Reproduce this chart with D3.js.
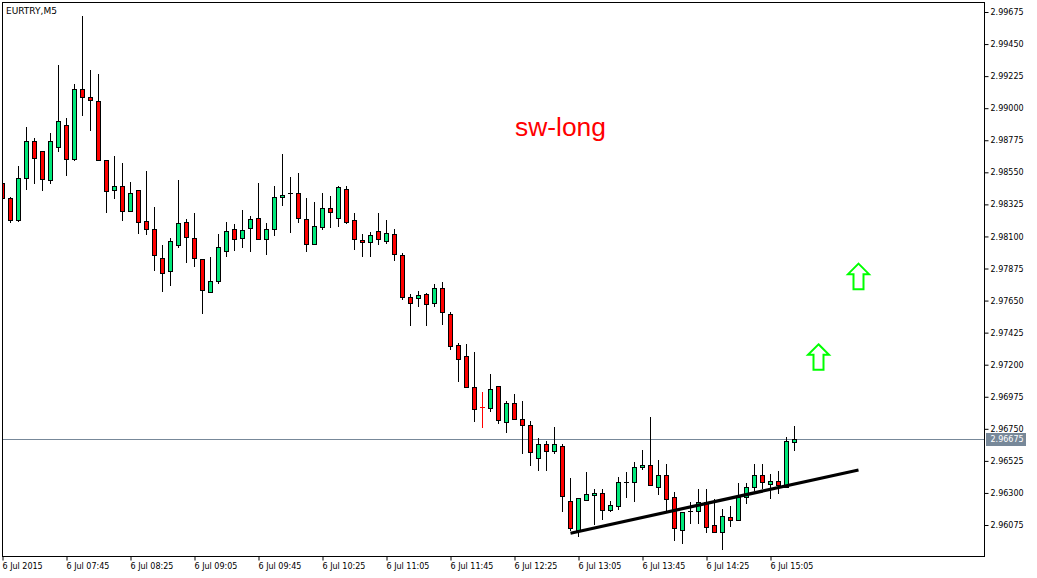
<!DOCTYPE html>
<html><head><meta charset="utf-8">
<script src="https://cdn.jsdelivr.net/npm/d3@7"></script>
<style>html,body{margin:0;padding:0;background:#fff;overflow:hidden}</style>
</head><body>
<svg id="c" width="1037" height="578"></svg>
<script>
// ---------- data ----------
const symbolLabel = "EURTRY,M5";
const signalLabel = "sw-long";
const xTickIndex = [0, 8, 16, 24, 32, 40, 48, 56, 64, 72, 80, 88, 96];
const xTickLabels = ["6 Jul 2015", "6 Jul 07:45", "6 Jul 08:25", "6 Jul 09:05", "6 Jul 09:45", "6 Jul 10:25",
  "6 Jul 11:05", "6 Jul 11:45", "6 Jul 12:25", "6 Jul 13:05", "6 Jul 13:45", "6 Jul 14:25", "6 Jul 15:05"];
const yTickValues = [2.96075, 2.96300, 2.96525, 2.96750, 2.96975, 2.97200, 2.97425, 2.97650, 2.97875,
  2.98100, 2.98325, 2.98550, 2.98775, 2.99000, 2.99225, 2.99450, 2.99675];

const open = [
  2.98468, 2.98363, 2.98210, 2.98505, 2.98768, 2.98697, 2.98491, 2.98725, 2.98880, 2.98638,
  2.99133, 2.99076, 2.99048, 2.98634, 2.98422, 2.98452, 2.98276, 2.98424, 2.98206, 2.98150,
  2.97946, 2.97855, 2.98033, 2.98199, 2.98087, 2.97939, 2.97708, 2.97785, 2.97996, 2.98150,
  2.98087, 2.98157, 2.98227, 2.98080, 2.98150, 2.98375, 2.98400, 2.98403, 2.98220, 2.98045,
  2.98164, 2.98297, 2.98227, 2.98431, 2.98213, 2.98073, 2.98059, 2.98136, 2.98066, 2.98115,
  2.97968, 2.97673, 2.97666, 2.97694, 2.97631, 2.97736, 2.97553, 2.97336, 2.97259, 2.97041,
  2.96901, 2.96894, 2.97048, 2.96796, 2.96929, 2.96817, 2.96774, 2.96543, 2.96641, 2.96592,
  2.96627, 2.96241, 2.96038, 2.96248, 2.96283, 2.96297, 2.96178, 2.96206, 2.96374, 2.96374,
  2.96480, 2.96494, 2.96339, 2.96424, 2.96269, 2.96038, 2.96171, 2.96171, 2.96234, 2.96073,
  2.96024, 2.96129, 2.96108, 2.96269, 2.96339, 2.96424, 2.96360, 2.96381, 2.96339, 2.96655];
const high = [
  2.98482, 2.98377, 2.98594, 2.98870, 2.98793, 2.98699, 2.98826, 2.99303, 2.98931, 2.99170,
  2.99647, 2.99268, 2.99240, 2.98634, 2.98664, 2.98613, 2.98480, 2.98424, 2.98559, 2.98307,
  2.98038, 2.98087, 2.98496, 2.98220, 2.98262, 2.97939, 2.97954, 2.98115, 2.98199, 2.98185,
  2.98283, 2.98241, 2.98475, 2.98192, 2.98454, 2.98678, 2.98517, 2.98545, 2.98368, 2.98340,
  2.98405, 2.98384, 2.98452, 2.98454, 2.98264, 2.98115, 2.98129, 2.98264, 2.98213, 2.98150,
  2.97982, 2.97694, 2.97715, 2.97701, 2.97764, 2.97778, 2.97568, 2.97350, 2.97343, 2.97287,
  2.97006, 2.97132, 2.97048, 2.96943, 2.96992, 2.96943, 2.96803, 2.96683, 2.96662, 2.96760,
  2.96641, 2.96403, 2.96262, 2.96445, 2.96325, 2.96325, 2.96241, 2.96410, 2.96447, 2.96515,
  2.96601, 2.96831, 2.96529, 2.96501, 2.96304, 2.96164, 2.96234, 2.96325, 2.96325, 2.96255,
  2.96185, 2.96206, 2.96367, 2.96367, 2.96501, 2.96501, 2.96431, 2.96452, 2.96690, 2.96767];
const low = [
  2.98349, 2.98203, 2.98210, 2.98431, 2.98477, 2.98426, 2.98477, 2.98702, 2.98533, 2.98636,
  2.98952, 2.98847, 2.98634, 2.98274, 2.98372, 2.98217, 2.98276, 2.98126, 2.98115, 2.97866,
  2.97719, 2.97761, 2.98028, 2.97923, 2.97895, 2.97565, 2.97708, 2.97771, 2.97965, 2.98003,
  2.98028, 2.97996, 2.98080, 2.97975, 2.98108, 2.98318, 2.98129, 2.98199, 2.97996, 2.98045,
  2.98150, 2.98164, 2.98175, 2.98192, 2.98010, 2.97965, 2.97965, 2.98045, 2.98052, 2.97932,
  2.97659, 2.97476, 2.97610, 2.97476, 2.97610, 2.97483, 2.97308, 2.97083, 2.97041, 2.96803,
  2.96760, 2.96877, 2.96789, 2.96730, 2.96817, 2.96578, 2.96494, 2.96459, 2.96459, 2.96578,
  2.96171, 2.96040, 2.95995, 2.96248, 2.96080, 2.96115, 2.96171, 2.96185, 2.96269, 2.96241,
  2.96466, 2.96353, 2.96290, 2.96178, 2.95967, 2.95946, 2.96087, 2.96087, 2.96024, 2.96024,
  2.95904, 2.96066, 2.96108, 2.96227, 2.96318, 2.96332, 2.96262, 2.96297, 2.96339, 2.96599];
const close = [
  2.98363, 2.98210, 2.98508, 2.98768, 2.98645, 2.98498, 2.98768, 2.98908, 2.98638, 2.99133,
  2.99076, 2.99055, 2.98634, 2.98415, 2.98450, 2.98276, 2.98403, 2.98199, 2.98150, 2.97965,
  2.97841, 2.98066, 2.98192, 2.98094, 2.97946, 2.97722, 2.97785, 2.98024, 2.98136, 2.98080,
  2.98143, 2.98220, 2.98080, 2.98150, 2.98375, 2.98389, 2.98400, 2.98227, 2.98045, 2.98171,
  2.98297, 2.98269, 2.98445, 2.98199, 2.98080, 2.98059, 2.98108, 2.98080, 2.98122, 2.97975,
  2.97673, 2.97631, 2.97687, 2.97624, 2.97736, 2.97568, 2.97329, 2.97238, 2.97041, 2.96887,
  2.96901, 2.97027, 2.96810, 2.96929, 2.96817, 2.96774, 2.96585, 2.96641, 2.96592, 2.96641,
  2.96276, 2.96052, 2.96262, 2.96290, 2.96297, 2.96178, 2.96213, 2.96374, 2.96374, 2.96480,
  2.96494, 2.96353, 2.96424, 2.96255, 2.96052, 2.96164, 2.96171, 2.96234, 2.96059, 2.96024,
  2.96136, 2.96108, 2.96269, 2.96339, 2.96424, 2.96374, 2.96381, 2.96353, 2.96662, 2.96675];

const currentPrice = 2.96675;
const trendIndex = [71, 107];
const trendPrice = [2.96017, 2.96461];
const arrowIndex = [102, 107];
const arrowPrice = [2.97350, 2.97916];

// ---------- drawing ----------
const svg = d3.select("#c");
const plot = {l: 2.5, t: 2.5, r: 984.5, b: 556.5};
const x = d3.scaleLinear().domain([0, 120]).range([2.5, 962.5]);
const y = d3.scaleLinear().domain([2.96075, 2.99675]).range([525, 12]);
const snap = v => Math.round(v - 0.5) + 0.5;
const FONT = "'Liberation Sans', Arial, sans-serif";
const AXFONT = "'DejaVu Sans', Tahoma, sans-serif";
const BULL = "#00e87a", BEAR = "#ff0000";
const redCross = 60;

svg.append("rect").attr("width", 1037).attr("height", 578).attr("fill", "#fff");

svg.append("defs").append("clipPath").attr("id", "clip")
  .append("rect").attr("x", 3).attr("y", 3).attr("width", plot.r - 3).attr("height", plot.b - 3);

const g = svg.append("g").attr("clip-path", "url(#clip)");

// current price line
g.append("line").attr("x1", plot.l).attr("x2", plot.r)
  .attr("y1", snap(y(currentPrice))).attr("y2", snap(y(currentPrice)))
  .attr("stroke", "#778899").attr("stroke-width", 1);

const bars = d3.range(open.length).map(i => ({i, o: open[i], h: high[i], l: low[i], c: close[i]}));

const cg = g.selectAll("g.bar").data(bars).join("g").attr("class", "bar");
cg.append("line")
  .attr("x1", d => x(d.i)).attr("x2", d => x(d.i))
  .attr("y1", d => Math.round(y(d.h))).attr("y2", d => Math.round(y(d.l)) + 1)
  .attr("stroke", d => d.i === redCross ? BEAR : "#000").attr("stroke-width", 1);
cg.each(function(d) {
  const sel = d3.select(this);
  const top = snap(y(Math.max(d.o, d.c))), bot = snap(y(Math.min(d.o, d.c)));
  if (d.o === d.c) {
    sel.append("line").attr("x1", x(d.i) - 2.5).attr("x2", x(d.i) + 2.5)
      .attr("y1", top).attr("y2", top)
      .attr("stroke", d.i === redCross ? BEAR : "#000").attr("stroke-width", 1);
  } else {
    sel.append("rect").attr("x", x(d.i) - 2).attr("width", 4)
      .attr("y", top).attr("height", Math.max(1, bot - top))
      .attr("fill", d.c > d.o ? BULL : BEAR).attr("stroke", "#000").attr("stroke-width", 1);
  }
});

// trend line
g.append("line")
  .attr("x1", x(trendIndex[0])).attr("y1", y(trendPrice[0]))
  .attr("x2", x(trendIndex[1])).attr("y2", y(trendPrice[1]))
  .attr("stroke", "#000").attr("stroke-width", 3.2);

// arrows
const arrowPath = (cx, ty) => {
  const hw = 10.5, sw = 5, hh = 10.5, tot = 25.5;
  return `M${cx},${ty} L${cx + hw},${ty + hh} L${cx + sw},${ty + hh} L${cx + sw},${ty + tot} ` +
         `L${cx - sw},${ty + tot} L${cx - sw},${ty + hh} L${cx - hw},${ty + hh} Z`;
};
g.selectAll("path.arrow").data(arrowIndex.map((d, k) => ({i: d, p: arrowPrice[k]})))
  .join("path").attr("class", "arrow")
  .attr("d", d => arrowPath(x(d.i), y(d.p) + 1))
  .attr("fill", "#fff").attr("stroke", "#00ff00").attr("stroke-width", 2);

// signal text
g.append("text").attr("x", 515).attr("y", 136).text(signalLabel)
  .attr("fill", "#ff0000").attr("font-family", FONT).attr("font-size", 26.4);

// symbol label
svg.append("text").attr("x", 6).attr("y", 13.5).text(symbolLabel)
  .attr("fill", "#000").attr("font-family", AXFONT).attr("font-size", 9);

// frame
svg.append("rect").attr("x", plot.l).attr("y", plot.t)
  .attr("width", plot.r - plot.l).attr("height", plot.b - plot.t)
  .attr("fill", "none").attr("stroke", "#000").attr("stroke-width", 1);

// y axis
const ya = svg.append("g").attr("transform", `translate(${plot.r},0)`)
  .call(d3.axisRight(y).tickValues(yTickValues).tickFormat(d3.format(".5f")).tickSize(4).tickPadding(2).tickSizeOuter(0));
ya.select(".domain").remove();
ya.selectAll("text").attr("font-family", AXFONT).attr("font-size", 8).attr("fill", "#000");
ya.selectAll("line").attr("stroke", "#000");

// current price tag
const cy = y(currentPrice);
svg.append("rect").attr("x", 986).attr("y", cy - 6.5).attr("width", 40).attr("height", 13)
  .attr("fill", "#778899");
svg.append("text").attr("x", 990.5).attr("y", cy).attr("dy", "0.36em").text(d3.format(".5f")(currentPrice))
  .attr("fill", "#fff").attr("font-family", AXFONT).attr("font-size", 8);

// x axis
const xa = svg.append("g").attr("transform", `translate(0,${plot.b})`)
  .call(d3.axisBottom(x).tickValues(xTickIndex).tickFormat((d, k) => xTickLabels[k]).tickSize(4).tickPadding(3).tickSizeOuter(0));
xa.select(".domain").remove();
xa.selectAll("text").attr("text-anchor", "start").attr("x", -0.5)
  .attr("font-family", AXFONT).attr("font-size", 8).attr("fill", "#000");
xa.selectAll("line").attr("stroke", "#000");
</script>
</body></html>
